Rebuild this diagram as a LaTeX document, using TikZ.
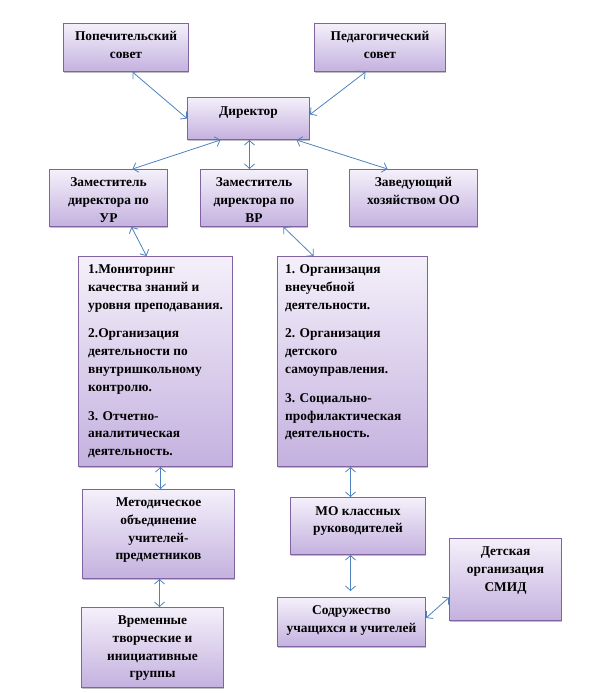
\documentclass[tikz,border=0pt]{standalone}
\usepackage{fontspec}
\setmainfont{Liberation Serif}
\usepackage{tikz}
\usetikzlibrary{positioning,arrows.meta,shadows}
\definecolor{boxline}{HTML}{8064A2}
\definecolor{boxtop}{HTML}{F4F0FA}
\definecolor{boxbot}{HTML}{C4B1DF}
\definecolor{linkblue}{HTML}{4F81BD}

\begin{document}
\begin{tikzpicture}[x=1pt, y=-1pt,
    box/.style={draw=boxline, line width=1pt, top color=boxtop, bottom color=boxbot,
        inner sep=0pt, anchor=north west,
        drop shadow={shadow xshift=0.6pt, shadow yshift=-1.8pt, opacity=0.25, fill=black}},
    txt/.style={font=\bfseries\fontsize{13.4}{17.8}\selectfont, align=center, inner sep=0pt},
    listtxt/.style={txt, align=left},
    link/.style={draw=linkblue, line width=0.8pt,
        {Straight Barb[length=4.5pt,width=10pt]}-{Straight Barb[length=4.5pt,width=10pt]}}]
    \useasboundingbox (0,0) rectangle (591,693);

    % =========================================================
    % TOP LEVEL: councils and director
    % =========================================================
    \node[box, minimum width=125pt, minimum height=48pt] (trust) at (63,23) {};
    \node[txt, below=8.5pt of trust.north] (trustT) {Попечительский\\совет};

    \node[box, minimum width=131pt, minimum height=48pt] (pedsov) at (314,23) {};
    \node[txt, below=8.5pt of pedsov.north] (pedsovT) {Педагогический\\совет};

    \node[box, minimum width=122pt, minimum height=42pt] (dir) at (187,97) {};
    \node[txt, below=9.5pt of dir.north] (dirT) {Директор};

    % =========================================================
    % DEPUTIES
    % =========================================================
    \node[box, minimum width=118pt, minimum height=57pt] (zamUR) at (49,169) {};
    \node[txt, below=8.5pt of zamUR.north] (zamURT) {Заместитель\\директора по\\УР};

    \node[box, minimum width=107pt, minimum height=57pt] (zamVR) at (200,169) {};
    \node[txt, below=8.5pt of zamVR.north] (zamVRT) {Заместитель\\директора по\\ВР};

    \node[box, minimum width=128pt, minimum height=57pt] (zavhoz) at (349,169) {};
    \node[txt, below=8.5pt of zavhoz.north] (zavhozT) {Заведующий\\хозяйством ОО};

    % =========================================================
    % TASK LISTS
    % =========================================================
    \node[box, minimum width=154pt, minimum height=210pt] (tasksUR) at (78,256) {};
    \node[listtxt, below right=8.5pt and 10pt of tasksUR.north west] (tasksURT)
        {1.Мониторинг\\качества знаний и\\уровня преподавания.\\[11pt]
         2.Организация\\деятельности по\\внутришкольному\\контролю.\\[11pt]
         3. Отчетно-\\аналитическая\\деятельность.};

    \node[box, minimum width=150pt, minimum height=210pt] (tasksVR) at (277,256) {};
    \node[listtxt, below right=8.5pt and 8pt of tasksVR.north west] (tasksVRT)
        {1. Организация\\внеучебной\\деятельности.\\[11pt]
         2. Организация\\детского\\самоуправления.\\[11pt]
         3. Социально-\\профилактическая\\деятельность.};

    % =========================================================
    % LOWER UNITS
    % =========================================================
    \node[box, minimum width=152pt, minimum height=89pt] (metod) at (82,489) {};
    \node[txt, below=8.5pt of metod.north] (metodT) {Методическое\\объединение\\учителей-\\предметников};

    \node[box, minimum width=142pt, minimum height=80pt] (groups) at (81,607) {};
    \node[txt, below=8.5pt of groups.north] (groupsT) {Временные\\творческие и\\инициативные\\группы};

    \node[box, minimum width=135pt, minimum height=57pt] (moKR) at (290,497) {};
    \node[txt, below=9pt of moKR.north] (moKRT) {МО классных\\руководителей};

    \node[box, minimum width=148pt, minimum height=49pt] (sodr) at (277,597) {};
    \node[txt, below=8.5pt of sodr.north] (sodrT) {Содружество\\учащихся и учителей};

    \node[box, minimum width=112pt, minimum height=82pt] (smid) at (449,538) {};
    \node[txt, below=9pt of smid.north] (smidT) {Детская\\организация\\СМИД};

    % =========================================================
    % CONNECTORS
    % =========================================================
    \draw[link] ([xshift=6.5pt]trust.south) -- (dir.west);
    \draw[link] ([xshift=-14.5pt]pedsov.south) -- ([yshift=4pt]dir.east);
    \draw[link] ([xshift=-28pt]dir.south) -- ([xshift=24pt]zamUR.north);
    \draw[link] ([xshift=1pt]dir.south) -- ([xshift=1pt]dir.south |- zamVR.north);
    \draw[link] ([xshift=48pt]dir.south) -- ([xshift=-26pt]zavhoz.north);
    \draw[link] ([xshift=23pt]zamUR.south) -- ([xshift=-9pt]tasksUR.north);
    \draw[link] ([xshift=29.5pt]zamVR.south) -- ([xshift=-39pt]tasksVR.north);
    \draw[link] ([xshift=5pt]tasksUR.south) -- ([xshift=5pt]tasksUR.south |- metod.north);
    \draw[link] ([xshift=1pt]metod.south) -- ([xshift=1pt]metod.south |- groups.north);
    \draw[link] ([xshift=-2pt]tasksVR.south) -- ([xshift=-2pt]tasksVR.south |- moKR.north);
    \draw[link, shorten >=6pt] ([xshift=-7.5pt]moKR.south) -- ([xshift=-7.5pt]moKR.south |- sodr.north);
    \draw[link] ([yshift=4pt]sodr.east) -- ([yshift=-18pt]smid.west);
\end{tikzpicture}
\end{document}
